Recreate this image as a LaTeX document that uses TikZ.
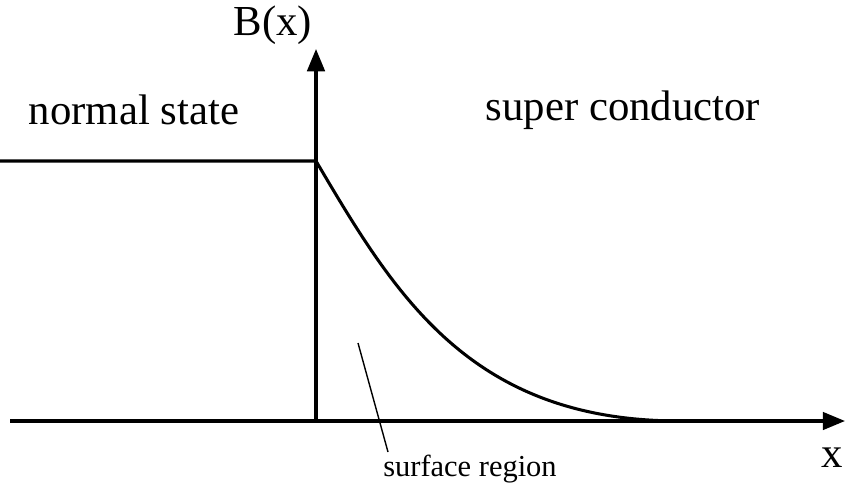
\documentclass[tikz,border=0pt]{standalone}
\usepackage{fontspec}
\setmainfont{Liberation Serif}
\usetikzlibrary{arrows.meta}
\begin{document}
\begin{tikzpicture}[x=0.03cm,y=-0.03cm,
  axis/.style={line width=2.6pt,-{Triangle[length=19pt,width=15pt]}},
  curve/.style={line width=2.6pt},
  leader/.style={line width=1.2pt},
  big/.style={font=\fontsize{36.5}{40}\selectfont,inner sep=0pt},
  small/.style={font=\fontsize{26}{30}\selectfont,inner sep=0pt}]
\useasboundingbox (0,0) rectangle (845,497);
\coordinate (o) at (316,421);
\coordinate (xend) at (845,421);
\coordinate (xstart) at (10,421);
\coordinate (yend) at (316,49);
\coordinate (lstart) at (0,161);
\coordinate (knee) at (316,161);
\coordinate (tail) at (680,421);
\coordinate (la) at (358,343);
\coordinate (lb) at (388,452);
\draw[axis] (xstart) -- (xend);
\draw[axis] (o) -- (yend);
\draw[curve] (lstart) -- (knee) .. controls (395,295) and (470,421) .. (tail);
\draw[leader] (la) -- (lb);
\node[big,anchor=base] (bx) at (273,35) {B(x)};
\node[big,anchor=base] (ns) at (134,124) {normal state};
\node[big,anchor=base] (sc) at (623,120) {super conductor};
\node[small,anchor=base] (sr) at (470,476) {surface region};
\node[big,anchor=base] (xl) at (832,467) {x};
\end{tikzpicture}
\end{document}
